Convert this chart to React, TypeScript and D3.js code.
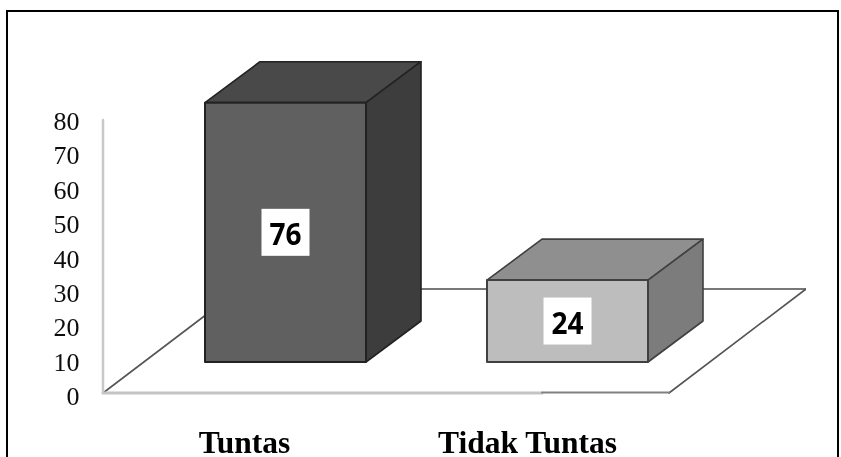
import React from "react";
import * as d3 from "d3";

const categories = ["Tuntas", "Tidak Tuntas"];
const values = [76, 24];
const yTicks = [0, 10, 20, 30, 40, 50, 60, 70, 80];
const frontColors = ["#606060", "#bdbdbd"];
const topColors = ["#484848", "#8f8f8f"];
const sideColors = ["#3c3c3c", "#7b7b7b"];
const edgeColors = ["#232323", "#404040"];

const W = 841, H = 457;
const axisX = 103, axisBase = 393;
const barBase = 362, depthX = 55, depthY = 41;
const floorDX = 137, floorDY = 104, floorRight = 669;

const h = d3.scaleLinear().domain([0, 80]).range([0, 273]);
const labelY = d3.scaleLinear().domain([0, 80]).range([405, 130]);
const x = d3.scaleBand().domain(categories).range([145, 708]).paddingInner(121 / 282).paddingOuter(60 / 282);

const poly = (pts: [number, number][]) => d3.line()(pts) + "Z";

export default function App() {
  return (
    <svg width={W} height={H} style={{ position: "fixed", left: 0, top: 0, background: "#fff" }}>
      <defs>
        <filter id="soft" x="0" y="0" width="100%" height="100%">
          <feGaussianBlur stdDeviation="0.45" />
        </filter>
      </defs>
      <rect x={7} y={11} width={831} height={460} fill="#fff" stroke="#000" strokeWidth={2} />
      <g filter="url(#soft)">
        {/* floor */}
        <g fill="none" strokeLinecap="round">
          <path d={`M${axisX},${axisBase}L${axisX + floorDX},${axisBase - floorDY}`} stroke="#555" strokeWidth={1.6} />
          <path d={`M${axisX + floorDX},${axisBase - floorDY}H${floorRight + floorDX}`} stroke="#777" strokeWidth={2.2} />
          <path d={`M${floorRight + floorDX},${axisBase - floorDY}L${floorRight},${axisBase}`} stroke="#555" strokeWidth={1.6} />
          <path d={`M${axisX},${axisBase}H${542}`} stroke="#c4c4c4" strokeWidth={3} />
          <path d={`M542,${axisBase - 0.5}H${floorRight}`} stroke="#808080" strokeWidth={2} />
          <path d={`M${axisX},${axisBase}V${axisBase - h(80)}`} stroke="#c8c8c8" strokeWidth={2.5} />
        </g>
        {/* y labels */}
        <g fontFamily="'Liberation Serif', serif" fontSize={26} fill="#111" textAnchor="end">
          {yTicks.map((t) => (
            <text key={t} x={79.5} y={labelY(t)}>{t}</text>
          ))}
        </g>
        {/* bars */}
        {categories.map((c, i) => {
          const x0 = x(c)!, x1 = x0 + x.bandwidth();
          const top = barBase - h(values[i]);
          const cx = (x0 + x1) / 2;
          const cy = (top + barBase) / 2;
          return (
            <g key={c} strokeLinejoin="round">
              <path d={poly([[x0, top], [x0 + depthX, top - depthY], [x1 + depthX, top - depthY], [x1, top]])} fill={topColors[i]} stroke={edgeColors[i]} strokeWidth={1.6} />
              <path d={poly([[x1, top], [x1 + depthX, top - depthY], [x1 + depthX, barBase - depthY], [x1, barBase]])} fill={sideColors[i]} stroke={edgeColors[i]} strokeWidth={1.6} />
              <rect x={x0} y={top} width={x1 - x0} height={barBase - top} fill={frontColors[i]} stroke={edgeColors[i]} strokeWidth={2} />
              <rect x={cx - 24} y={cy - 23.5} width={48} height={47} fill="#fff" />
              <text x={cx} y={cy + 13} textAnchor="middle" fontFamily="'Open Sans', sans-serif" fontWeight={700} fontSize={30} textLength={32} lengthAdjust="spacingAndGlyphs" fill="#000">{values[i]}</text>
            </g>
          );
        })}
        {/* categories */}
        <g fontFamily="'Liberation Serif', serif" fontWeight={700} fontSize={31.5} fill="#000" textAnchor="middle">
          <text x={244.5} y={453}>{categories[0]}</text>
          <text x={527.5} y={453}>{categories[1]}</text>
        </g>
      </g>
    </svg>
  );
}
